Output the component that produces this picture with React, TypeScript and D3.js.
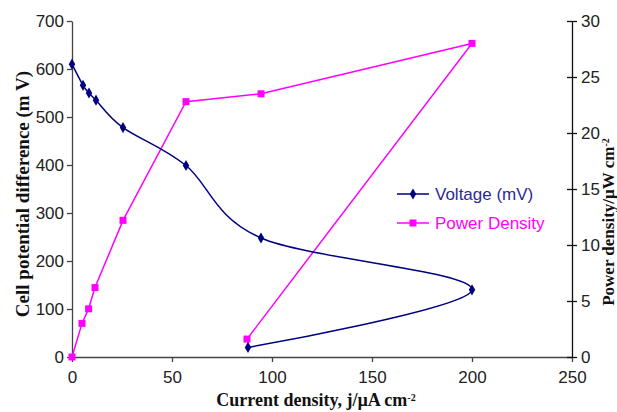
import React, { useEffect, useRef } from 'react';
import * as d3 from 'd3';

// current density (µA cm-2) for the voltage sweep
const voltageCurrent = [0, 5.5, 8.5, 12, 25.5, 57, 94.5, 200, 88];
const voltageValues = [610, 566, 550, 535, 478, 399, 248, 140, 20];

// power density sweep
const powerCurrent = [0, 5, 8.3, 11.5, 25.5, 57, 94.5, 200, 87.5];
const powerValues = [0, 3.0, 4.3, 6.2, 12.2, 22.8, 23.5, 28, 1.6];

const xTicks = [0, 50, 100, 150, 200, 250];
const leftTicks = [0, 100, 200, 300, 400, 500, 600, 700];
const rightTicks = [0, 5, 10, 15, 20, 25, 30];

const seriesNames = ['Voltage (mV)', 'Power Density'];

const W = 617;
const H = 412;
const BLUE = '#000080';
const PINK = '#ff00ff';
const SANS = "'Liberation Sans', Arial, sans-serif";
const SERIF = "'Liberation Serif', 'Times New Roman', serif";

const App = () => {
  const svgRef = useRef(null);

  useEffect(() => {
    const margin = { top: 21, right: 45, bottom: 55, left: 72 };
    const x = d3.scaleLinear().domain([0, 250]).range([margin.left, W - margin.right]);
    const yL = d3.scaleLinear().domain([0, 700]).range([H - margin.bottom, margin.top]);
    const yR = d3.scaleLinear().domain([0, 30]).range([H - margin.bottom, margin.top]);

    const svg = d3.select(svgRef.current);
    svg.selectAll('*').remove();

    const styleAxis = (g, color) => {
      g.select('.domain').attr('stroke', color).attr('stroke-width', 1.3);
      g.selectAll('.tick line').attr('stroke', color).attr('stroke-width', 1.3);
      g.selectAll('.tick text')
        .attr('fill', '#222')
        .style('font-family', SANS)
        .style('font-size', '17px');
    };

    const bottom = svg.append('g')
      .attr('transform', `translate(0,${yL(0)})`)
      .call(d3.axisBottom(x).tickValues(xTicks).tickSizeInner(5).tickSizeOuter(0).tickPadding(9));
    styleAxis(bottom, '#444');

    const left = svg.append('g')
      .attr('transform', `translate(${x(0)},0)`)
      .call(d3.axisLeft(yL).tickValues(leftTicks).tickSizeInner(5).tickSizeOuter(0).tickPadding(3));
    styleAxis(left, '#444');

    const right = svg.append('g')
      .attr('transform', `translate(${x(250)},0)`)
      .call(d3.axisRight(yR).tickValues(rightTicks).tickSizeInner(5).tickSizeOuter(0).tickPadding(4));
    styleAxis(right, '#111');
    right.selectAll('.tick line').attr('x1', -5);

    // power density, straight segments
    const powerPts = powerCurrent.map((c, i) => [c, powerValues[i]]);
    const powerLine = d3.line().x(d => x(d[0])).y(d => yR(d[1]));
    svg.append('path')
      .attr('d', powerLine(powerPts))
      .attr('fill', 'none')
      .attr('stroke', PINK)
      .attr('stroke-width', 1.5);

    svg.selectAll('.psq')
      .data(powerPts)
      .enter().append('rect')
      .attr('class', 'psq')
      .attr('x', d => x(d[0]) - 3.5)
      .attr('y', d => yR(d[1]) - 3.5)
      .attr('width', 7)
      .attr('height', 7)
      .attr('fill', PINK);

    // voltage, smoothed
    const voltPts = voltageCurrent.map((c, i) => [c, voltageValues[i]]);
    const voltLine = d3.line()
      .x(d => x(d[0]))
      .y(d => yL(d[1]))
      .curve(d3.curveCardinal.tension(0));
    svg.append('path')
      .attr('d', voltLine(voltPts))
      .attr('fill', 'none')
      .attr('stroke', BLUE)
      .attr('stroke-width', 1.5);

    const diamond = d3.symbol().type(d3.symbolDiamond).size(36);
    svg.selectAll('.vdm')
      .data(voltPts)
      .enter().append('path')
      .attr('class', 'vdm')
      .attr('d', diamond())
      .attr('transform', d => `translate(${x(d[0])},${yL(d[1])})`)
      .attr('fill', BLUE);

    // legend
    const legend = svg.append('g').attr('transform', 'translate(397,0)');
    const legendColors = [BLUE, PINK];
    const legendY = [194, 223];
    seriesNames.forEach((name, i) => {
      const row = legend.append('g').attr('transform', `translate(0,${legendY[i]})`);
      row.append('line')
        .attr('x1', 0).attr('x2', 32)
        .attr('stroke', legendColors[i]).attr('stroke-width', 1.5);
      if (i === 0) {
        row.append('path').attr('d', diamond()).attr('transform', 'translate(16,0)').attr('fill', BLUE);
      } else {
        row.append('rect').attr('x', 12.5).attr('y', -3.5).attr('width', 7).attr('height', 7).attr('fill', PINK);
      }
      row.append('text')
        .attr('x', 38)
        .attr('dy', '0.35em')
        .attr('fill', i === 0 ? '#2b2b95' : PINK)
        .style('font-family', SANS)
        .style('font-size', '17px')
        .text(name);
    });

    // axis titles
    svg.append('text')
      .attr('transform', `translate(29,194) rotate(-90)`)
      .attr('text-anchor', 'middle')
      .style('font-family', SERIF)
      .style('font-weight', 'bold')
      .style('font-size', '19px')
      .attr('fill', '#111')
      .text('Cell potential difference (m V)');

    const rt = svg.append('text')
      .attr('transform', `translate(613.5,222) rotate(-90)`)
      .attr('text-anchor', 'middle')
      .style('font-family', SERIF)
      .style('font-weight', 'bold')
      .style('font-size', '17px')
      .attr('fill', '#111');
    rt.append('tspan').text('Power density/µW cm');
    rt.append('tspan').attr('dy', '-0.5em').style('font-size', '10px').text('-2');

    const bt = svg.append('text')
      .attr('x', 316)
      .attr('y', 406)
      .attr('text-anchor', 'middle')
      .style('font-family', SERIF)
      .style('font-weight', 'bold')
      .style('font-size', '18px')
      .attr('fill', '#111');
    bt.append('tspan').text('Current density, j/µA cm');
    bt.append('tspan').attr('dy', '-0.5em').style('font-size', '10px').text('-2');
  }, []);

  return (
    <svg
      ref={svgRef}
      width={W}
      height={H}
      style={{ position: 'absolute', left: 0, top: 0, background: '#fff' }}
    ></svg>
  );
};

export default App;
